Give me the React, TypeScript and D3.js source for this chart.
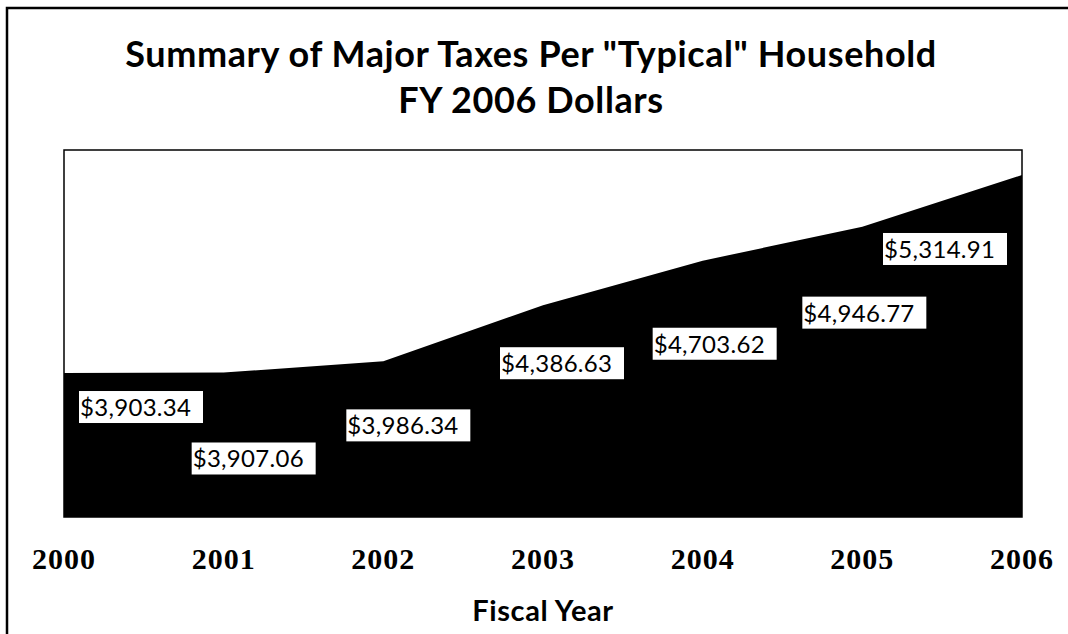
import React from 'react'
import * as d3 from 'd3'

const years = ['2000', '2001', '2002', '2003', '2004', '2005', '2006']
const taxes = [3903.34, 3907.06, 3986.34, 4386.63, 4703.62, 4946.77, 5314.91]
const titleLines = ['Summary of Major Taxes Per "Typical" Household', 'FY 2006 Dollars']
const xAxisTitle = 'Fiscal Year'

// hand-placed label boxes, offset from each point (px)
const labelDx = [15, -32, -37, -43, -50, -60, -139]
const labelDy = [18, 70, 48, 42, 67, 70, 58]

const SANS = 'Lato, "Open Sans", sans-serif'
const SERIF = '"Liberation Serif", "DejaVu Serif", serif'

const App = () => {
  const width = 1068
  const height = 634
  const plot = { left: 64, top: 150, right: 1022, bottom: 517 }

  const x = d3.scalePoint<string>()
    .domain(years)
    .range([plot.left, plot.right])

  const y = d3.scaleLinear()
    .domain([2877, 5493])
    .range([plot.bottom, plot.top])

  const area = d3.area<number>()
    .x((d, i) => x(years[i]) as number)
    .y0(plot.bottom)
    .y1(d => y(d))

  const fmt = d3.format('$,.2f')

  return (
    <svg
      width={width}
      height={height}
      style={{ position: 'absolute', left: 0, top: 0, background: '#fff' }}
    >
      <rect x={7} y={8} width={1100} height={700} fill="#fff" stroke="#000" strokeWidth={2.5} />

      {titleLines.map((t, i) => (
        <text
          key={t}
          x={531}
          y={67 + i * 46}
          textAnchor="middle"
          fontFamily={SANS}
          fontWeight="bold"
          fontSize={36}
          letterSpacing={0.6}
        >
          {t}
        </text>
      ))}

      <rect
        x={plot.left}
        y={plot.top}
        width={plot.right - plot.left}
        height={plot.bottom - plot.top}
        fill="#fff"
        stroke="#000"
        strokeWidth={1.5}
      />
      <path d={area(taxes) || ''} fill="#000" />

      {taxes.map((v, i) => {
        const bx = (x(years[i]) as number) + labelDx[i]
        const by = y(v) + labelDy[i]
        return (
          <g key={years[i]} transform={`translate(${bx},${by})`}>
            <rect width={124} height={32} fill="#fff" />
            <text x={1} y={25} fontFamily={SANS} fontSize={24} letterSpacing={0.3} fill="#000">
              {fmt(v)}
            </text>
          </g>
        )
      })}

      {years.map(yr => (
        <text
          key={yr}
          x={x(yr)}
          y={569}
          textAnchor="middle"
          fontFamily={SERIF}
          fontWeight="bold"
          fontSize={30}
          letterSpacing={1}
        >
          {yr}
        </text>
      ))}

      <text
        x={(plot.left + plot.right) / 2}
        y={621}
        textAnchor="middle"
        fontFamily={SANS}
        fontWeight="bold"
        fontSize={29}
        letterSpacing={0.6}
      >
        {xAxisTitle}
      </text>
    </svg>
  )
}

export default App
